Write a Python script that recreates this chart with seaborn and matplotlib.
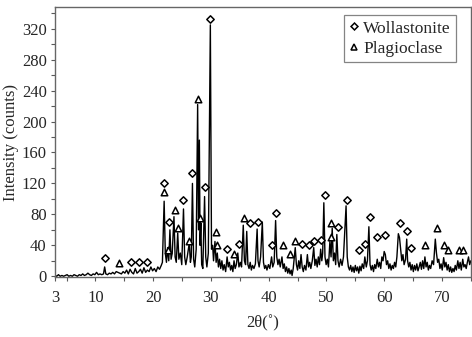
"""XRD pattern: wollastonite / plagioclase peaks."""
import numpy as np
import pandas as pd
import matplotlib
matplotlib.use('Agg')
import matplotlib.pyplot as plt
from matplotlib.lines import Line2D
from matplotlib.ticker import MultipleLocator
import seaborn as sns

# --- data ---
two_theta = [
    3.0, 3.3, 3.6, 3.9, 4.2, 4.5, 4.8, 5.1, 5.4, 5.7, 6.0, 6.3, 6.6, 6.9, 7.2, 7.5,
    7.8, 8.1, 8.4, 8.7, 9.0, 9.3, 9.6, 9.9, 10.2, 10.5, 10.8, 11.1, 11.4, 11.6, 11.8,
    12.1, 12.4, 12.7, 13.0, 13.3, 13.6, 13.9, 14.2, 14.5, 14.8, 15.1, 15.4, 15.7,
    16.0, 16.3, 16.6, 16.9, 17.2, 17.5, 17.8, 18.1, 18.4, 18.7, 19.0, 19.3, 19.6,
    19.9, 20.2, 20.5, 20.8, 21.1, 21.4, 21.6,
    21.9, 22.1, 22.3, 22.5, 22.7, 22.9, 23.1, 23.3, 23.6, 23.8, 24.0, 24.25, 24.45,
    24.7, 24.95, 25.25, 25.45, 25.65, 25.9, 26.25, 26.45, 26.6, 26.8, 27.0, 27.2,
    27.45, 27.7, 27.85, 28.0, 28.12, 28.25, 28.4, 28.6, 28.9, 29.1, 29.3, 29.55,
    29.9, 30.1, 30.3, 30.45, 30.7, 30.9, 31.1, 31.3,
    31.5, 31.7, 31.9, 32.1, 32.3, 32.55, 32.8, 33.0, 33.2, 33.4, 33.6, 33.8, 34.0,
    34.2, 34.4, 34.65, 34.85, 35.1, 35.3,
    35.6, 35.8, 36.0, 36.2, 36.4, 36.6, 36.8, 37.0, 37.2, 37.45, 37.7, 38.0, 38.15,
    38.35, 38.6, 38.9, 39.1, 39.3, 39.5, 39.7, 39.95, 40.2, 40.5, 40.7, 40.95, 41.2,
    41.4, 41.6, 41.8, 42.0, 42.3, 42.5, 42.7, 42.9, 43.1, 43.3, 43.5, 43.7, 43.9,
    44.05, 44.25, 44.6, 44.8,
    45.0, 45.2, 45.4, 45.6, 45.8, 46.0, 46.2, 46.45, 46.7, 46.9, 47.1, 47.3, 47.55,
    47.8, 48.0, 48.2, 48.4, 48.6, 48.8, 49.0, 49.2, 49.35,
    49.55, 49.75, 49.95, 50.15, 50.35, 50.6, 50.8, 51.0, 51.2, 51.4, 51.6, 51.8,
    52.0, 52.2, 52.45, 52.7, 52.95, 53.4, 53.6, 53.8,
    54.0, 54.2, 54.4, 54.6, 54.8, 55.0, 55.2, 55.4, 55.6, 55.8, 56.0, 56.2, 56.45,
    56.65, 56.9, 57.1, 57.35, 57.55, 57.75, 57.95, 58.15, 58.35, 58.55, 58.8, 59.0,
    59.2, 59.4, 59.6, 59.8, 60.0, 60.2, 60.4, 60.6, 60.8, 61.0, 61.2, 61.4, 61.6,
    61.8, 62.0, 62.2, 62.45, 62.65, 62.85, 63.05, 63.25, 63.45, 63.7, 63.9, 64.05,
    64.25,
    64.45, 64.65, 64.85, 65.05, 65.25, 65.45, 65.65, 65.85, 66.05, 66.25, 66.45,
    66.65, 66.85, 67.05, 67.25, 67.45, 67.65, 67.85, 68.05, 68.3, 68.55, 68.85,
    69.05, 69.25, 69.45, 69.65, 69.85, 70.05, 70.3, 70.5, 70.7, 70.9, 71.1, 71.3,
    71.5, 71.7, 71.9, 72.1, 72.3, 72.5, 72.75, 72.95, 73.15, 73.35, 73.6, 73.8,
    74.0, 74.2, 74.4, 74.6, 74.8, 75.0,
]
counts = [
    1, 0, 2, 0, 1, 0, 1, 2, 0, 1, 0, 2, 1, 0, 2, 1,
    3, 1, 2, 4, 2, 1, 3, 2, 5, 2, 3, 2, 3, 12, 3,
    2, 4, 3, 5, 3, 6, 5, 4, 3, 6, 4, 8, 3,
    9, 5, 3, 10, 4, 6, 9, 4, 11, 5, 8, 6, 12,
    7, 10, 6, 12, 9, 14, 18,
    97, 30, 18, 37, 20, 60, 22, 30, 77, 25, 18, 56, 22,
    30, 15, 87, 25, 15, 25, 43, 18, 25, 120, 22, 12,
    35, 222, 60, 176, 40, 69, 15, 10, 103, 25, 12, 30,
    325, 35, 40, 20, 45, 18, 30, 12,
    22, 10, 20, 8, 15, 6, 25, 12, 18, 8, 14, 6, 20,
    10, 15, 30, 12, 18, 12,
    66, 20, 15, 58, 15, 10, 18, 8, 14, 10, 16, 61, 20,
    12, 25, 70, 18, 10, 14, 8, 15, 10, 25, 12, 18, 72,
    25, 15, 22, 12, 25, 10, 16, 6, 12, 4, 10, 3, 8,
    1, 10, 37, 15,
    8, 20, 10, 28, 12, 6, 14, 8, 28, 12, 18, 10, 20,
    37, 14, 22, 12, 25, 15, 35, 20, 30,
    95, 25, 15, 22, 12, 45, 25, 62, 20, 30, 15, 54,
    20, 12, 22, 14, 25, 91, 25, 12,
    8, 14, 6, 12, 5, 14, 7, 12, 4, 13, 7, 16, 10,
    25, 12, 20, 64, 15, 8, 14, 6, 15, 10, 22, 12,
    18, 10, 25, 20, 32, 28, 15, 20, 10, 16, 8, 14, 10,
    18, 12, 25, 55, 50, 35, 20, 28, 15, 22, 48, 20,
    12,
    18, 8, 15, 6, 14, 8, 16, 7, 12, 18, 9,
    20, 10, 25, 12, 18, 8, 14, 10, 20, 15, 48,
    30, 18, 22, 10, 16, 8, 24, 12, 18, 8, 15, 6,
    12, 5, 10, 6, 14, 8, 20, 10, 18, 8, 22, 12,
    15, 10, 18, 25, 15, 20,
]

# phase markers
wol_x = [11.6, 16.2, 17.6, 19.0, 21.9, 22.8, 25.2, 26.7, 28.9, 29.9, 32.8, 34.8,
         36.8, 38.2, 40.6, 41.3, 45.8, 47.0, 47.9, 49.1, 49.7, 52.0, 53.6, 55.6,
         56.7, 57.5, 58.8, 60.1, 62.7, 64.0, 64.6]
wol_y = [24, 18, 18, 18, 120, 70, 99, 133, 115, 333, 35, 42,
         69, 70, 40, 82, 42, 40, 46, 47, 105, 64, 99, 34,
         42, 76, 51, 53, 69, 59, 36]
plag_x = [14.0, 21.8, 22.5, 23.8, 24.3, 26.2, 27.7, 28.1, 30.8, 31.0, 34.0, 35.8,
          42.4, 43.7, 44.6, 50.8, 50.8, 67.0, 69.1, 70.3, 71.0, 72.9, 73.7]
plag_y = [17, 109, 34, 86, 63, 46, 229, 75, 57, 40, 29, 75,
          40, 29, 46, 69, 51, 40, 63, 40, 34, 34, 34]

xticks = [3, 10, 20, 30, 40, 50, 60, 70]

df = pd.DataFrame({'two_theta': two_theta, 'counts': counts})
wol = pd.DataFrame({'x': wol_x, 'y': wol_y})
plag = pd.DataFrame({'x': plag_x, 'y': plag_y})

sns.set_style('ticks')
plt.rcParams['font.family'] = ['Liberation Serif', 'DejaVu Serif']
plt.rcParams['font.size'] = 12

fig = plt.figure(figsize=(4.72, 3.37), dpi=100)
ax = fig.add_axes([0.1165, 0.178, 0.881, 0.801])

sns.lineplot(data=df, x='two_theta', y='counts', ax=ax, color='black',
             linewidth=1.0, estimator=None, sort=False)
sns.scatterplot(data=wol, x='x', y='y', ax=ax, marker='D', s=14,
                facecolor='white', edgecolor='black', linewidth=1.1, zorder=3)
sns.scatterplot(data=plag, x='x', y='y', ax=ax, marker='^', s=22,
                facecolor='white', edgecolor='black', linewidth=1.1, zorder=3)

ax.set_xlim(3, 75)
ax.set_ylim(-1, 348)
ax.set_xticks(xticks)
ax.xaxis.set_minor_locator(MultipleLocator(5))
ax.yaxis.set_major_locator(MultipleLocator(40))
ax.yaxis.set_minor_locator(MultipleLocator(20))
ax.tick_params(which='both', direction='out', length=3, width=0.8,
               color='0.35', labelsize=12)
ax.tick_params(axis='x', pad=6)
ax.tick_params(axis='y', pad=3)
for sp in ax.spines.values():
    sp.set_visible(True)
    sp.set_color('0.4')
    sp.set_linewidth(1.0)

ax.set_xlabel('2θ(˚)', fontsize=12, labelpad=7)
ax.set_ylabel('Intensity (counts)', fontsize=12, labelpad=2)

handles = [
    Line2D([], [], marker='D', linestyle='none', markersize=3.5,
           markerfacecolor='white', markeredgecolor='black', markeredgewidth=1.1),
    Line2D([], [], marker='^', linestyle='none', markersize=4.5,
           markerfacecolor='white', markeredgecolor='black', markeredgewidth=1.1),
]
leg = ax.legend(handles, ['Wollastonite', 'Plagioclase'], loc='upper right',
                bbox_to_anchor=(0.965, 0.97), fontsize=12.5, frameon=True,
                fancybox=False, handlelength=0.5, handletextpad=0.3,
                borderpad=0.3, labelspacing=0.25, borderaxespad=0)
leg.get_frame().set_edgecolor('0.4')
leg.get_frame().set_linewidth(0.9)

plt.savefig('out.png', dpi=100)
plt.close()
